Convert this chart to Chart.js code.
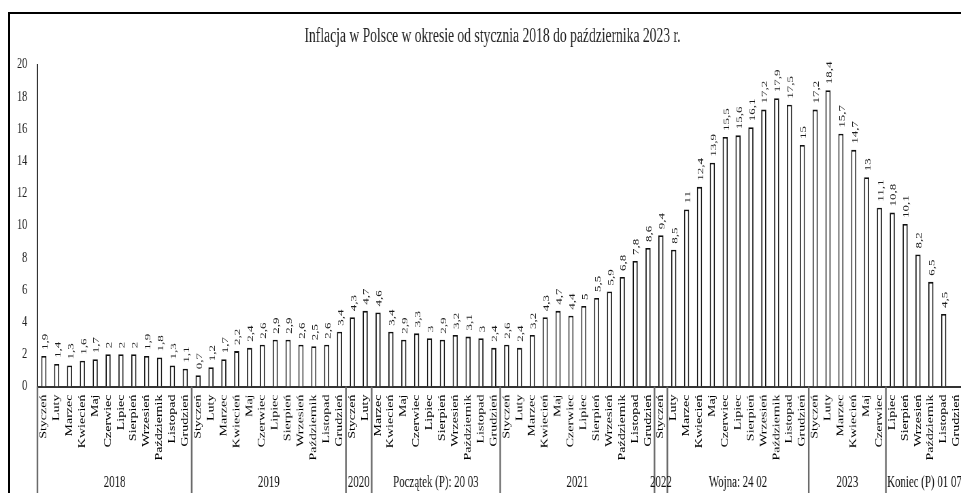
<!DOCTYPE html>
<html lang="pl">
<head>
<meta charset="utf-8">
<title>Inflacja w Polsce 2018–2023</title>
<script src="https://cdn.jsdelivr.net/npm/chart.js@4/dist/chart.umd.min.js"></script>
<style>
  html, body { margin: 0; padding: 0; background: #fff; overflow: hidden; width: 961px; height: 493px; }
  #wrap { position: relative; width: 961px; height: 493px; overflow: hidden; }
  #frame { position: absolute; left: 8px; top: 12px; width: 2000px; height: 2000px;
           border-left: 2px solid #000; border-top: 2px solid #000; pointer-events: none; }
  canvas { position: absolute; left: 0; top: 0; }
</style>
</head>
<body>
<div id="wrap">
  <canvas id="c" width="1416" height="493" style="width:963px;height:493px"></canvas>
  <div id="frame"></div>
</div>
<script>
// ---- data ----
const titleText = 'Inflacja w Polsce w okresie od stycznia 2018 do października 2023 r.';
const months = ['Styczeń','Luty','Marzec','Kwiecień','Maj','Czerwiec','Lipiec','Sierpień','Wrzesień','Październik','Listopad','Grudzień'];
const v2018 = [1.9, 1.4, 1.3, 1.6, 1.7, 2, 2, 2, 1.9, 1.8, 1.3, 1.1];
const v2019 = [0.7, 1.2, 1.7, 2.2, 2.4, 2.6, 2.9, 2.9, 2.6, 2.5, 2.6, 3.4];
const v2020 = [4.3, 4.7, 4.6, 3.4, 2.9, 3.3, 3, 2.9, 3.2, 3.1, 3, 2.4];
const v2021 = [2.6, 2.4, 3.2, 4.3, 4.7, 4.4, 5, 5.5, 5.9, 6.8, 7.8, 8.6];
const v2022 = [9.4, 8.5, 11, 12.4, 13.9, 15.5, 15.6, 16.1, 17.2, 17.9, 17.5, 15];
const v2023 = [17.2, 18.4, 15.7, 14.7, 13, 11.1, 10.8, 10.1, 8.2, 6.5, 4.5, null];
const groupLabels = ['2018','2019','2020','Początek (P): 20 03','2021','2022','Wojna: 24 02','2023','Koniec (P) 01 07'];
const groupSizes  = [12, 12, 2, 10, 12, 1, 11, 6, 6];
const yTicksMin = 0, yTicksMax = 20, yTicksStep = 2;

// ---- build ----
const labels = [];
for (let y = 0; y < 6; y++) for (const m of months) labels.push(m);
const values = [].concat(v2018, v2019, v2020, v2021, v2022, v2023);

const SX = 0.68;               // horizontal compression of the reference
const SERIF = '"Liberation Serif", "Times New Roman", serif';

const overlay = {
  id: 'overlay',
  afterDatasetsDraw(chart) {
    const ctx = chart.ctx;
    const meta = chart.getDatasetMeta(0);
    ctx.save();
    ctx.fillStyle = '#1a1a1a';
    ctx.font = '13px ' + SERIF;
    ctx.textAlign = 'left';
    ctx.textBaseline = 'middle';
    meta.data.forEach((bar, i) => {
      const v = values[i];
      if (v === null || v === undefined) return;
      ctx.save();
      ctx.translate(bar.x + 2, bar.y - 6);
      ctx.rotate(-Math.PI / 2);
      ctx.fillText(String(v).replace('.', ','), 0, 0);
      ctx.restore();
    });
    ctx.restore();
  },
  afterDraw(chart) {
    const ctx = chart.ctx;
    const xs = chart.scales.x;
    const area = chart.chartArea;
    const step = xs.getPixelForValue(1) - xs.getPixelForValue(0);
    const edge = i => xs.getPixelForValue(0) - step / 2 + i * step;
    ctx.save();
    // group separators
    ctx.strokeStyle = '#6a6a6a';
    ctx.lineWidth = 2.4;
    let start = 0;
    const bounds = [0];
    groupSizes.forEach(n => { start += n; bounds.push(start); });
    bounds.forEach(b => {
      const x = edge(b);
      ctx.beginPath();
      ctx.moveTo(x, area.bottom);
      ctx.lineTo(x, chart.height);
      ctx.stroke();
    });
    // group labels
    ctx.fillStyle = '#111';
    ctx.font = '16px ' + SERIF;
    ctx.textAlign = 'center';
    ctx.textBaseline = 'alphabetic';
    for (let g = 0; g < groupLabels.length; g++) {
      const cx = (edge(bounds[g]) + edge(bounds[g + 1])) / 2;
      ctx.fillText(groupLabels[g], cx, 487);
    }
    // title
    ctx.font = '20px ' + SERIF;
    ctx.fillStyle = '#222';
    ctx.textAlign = 'center';
    ctx.fillText(titleText, 492.5 / SX, 41.5);
    ctx.restore();
  }
};

new Chart(document.getElementById('c'), {
  type: 'bar',
  data: {
    labels: labels,
    datasets: [{
      data: values,
      backgroundColor: '#ffffff',
      borderColor: '#111111',
      borderWidth: 1.8,
      barPercentage: 0.4,
      categoryPercentage: 1.0
    }]
  },
  options: {
    responsive: false,
    devicePixelRatio: 1,
    animation: false,
    layout: { padding: { top: 64.5, left: 0, right: 0, bottom: 0 } },
    plugins: { legend: { display: false }, title: { display: false }, tooltip: { enabled: false } },
    scales: {
      x: {
        offset: true,
        grid: { display: false, drawTicks: false },
        border: { display: true, color: '#333', width: 2 },
        ticks: {
          autoSkip: false, maxRotation: 90, minRotation: 90, padding: 8,
          color: '#000', font: { family: SERIF, size: 14 }
        },
        afterFit(scale) { scale.height = 493 - 386.5; scale.paddingLeft = 0; scale.paddingRight = 0; }
      },
      y: {
        min: yTicksMin, max: yTicksMax,
        grid: { display: false, drawTicks: false },
        border: { display: true, color: '#333', width: 2 },
        ticks: { stepSize: yTicksStep, padding: 15, color: '#222', font: { family: SERIF, size: 15 } },
        afterFit(scale) { scale.width = 37.4 / SX; scale.paddingTop = 0; scale.paddingBottom = 0; }
      }
    }
  },
  plugins: [overlay]
});
</script>
</body>
</html>
